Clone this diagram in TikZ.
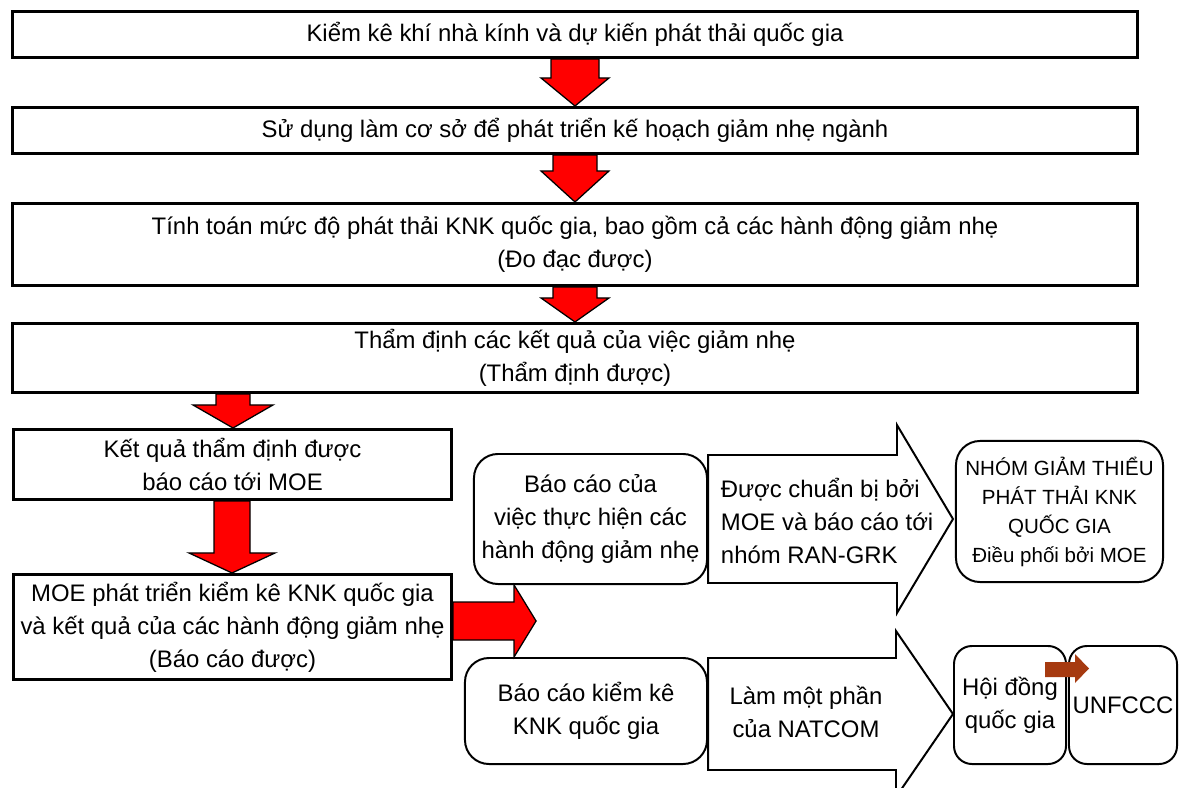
\documentclass[tikz,border=0pt]{standalone}
\usepackage{fontspec}
\setmainfont{Liberation Sans}
\usepackage{xcolor}
\usepackage{tikz}
\usetikzlibrary{positioning,calc}

\definecolor{arrowbrown}{RGB}{166,58,16}

% down block arrow: x, from node, to node, head length, shaft half width, head half width
\newcommand{\reddown}[6]{%
  \draw[redblk] (#1-#5,0 |- #2.south) -- ($(#1-#5,0 |- #3.north)+(0,-#4)$)
    -- ($(#1-#6,0 |- #3.north)+(0,-#4)$) -- (#1,0 |- #3.north)
    -- ($(#1+#6,0 |- #3.north)+(0,-#4)$) -- ($(#1+#5,0 |- #3.north)+(0,-#4)$)
    -- (#1+#5,0 |- #2.south) -- cycle;}

\begin{document}
\begin{tikzpicture}[
    x=0.025cm, y=-0.025cm,
    bigbox/.style={rectangle, draw, line width=2pt, fill=white, inner sep=2pt, align=center, font=\fontsize{17}{23.5}\selectfont},
    roundbox/.style={rectangle, draw, line width=1.4pt, rounded corners=0.6cm, fill=white, inner sep=2pt, align=center, font=\fontsize{17}{23.5}\selectfont},
    redblk/.style={draw=black, line width=0.9pt, fill=red, line join=miter},
    whiteblk/.style={draw=black, line width=1.4pt, fill=white, line join=miter},
    brownblk/.style={fill=arrowbrown}
]
\useasboundingbox (0,0) rectangle (1179,788);

% Main chain
\node[bigbox, minimum width=28.13cm, minimum height=1.155cm] (kiemke) at (575,34.5) {Kiểm kê khí nhà kính và dự kiến phát thải quốc gia};
\node[bigbox, minimum width=28.13cm, minimum height=1.155cm] (sudung) at (575,130.5) {Sử dụng làm cơ sở để phát triển kế hoạch giảm nhẹ ngành};
\node[bigbox, minimum width=28.13cm, minimum height=2.055cm] (tinhtoan) at (575,244.5) {Tính toán mức độ phát thải KNK quốc gia, bao gồm cả các hành động giảm nhẹ\\(Đo đạc được)};
\node[bigbox, minimum width=28.13cm, minimum height=1.73cm] (thamdinh) at (575,358) {Thẩm định các kết quả của việc giảm nhẹ\\(Thẩm định được)};
\node[bigbox, minimum width=10.955cm, minimum height=1.755cm] (ketqua) at (232.5,464.5) {Kết quả thẩm định được\\báo cáo tới MOE};
\node[bigbox, minimum width=10.955cm, minimum height=2.63cm] (moe) at (232.5,627) {MOE phát triển kiểm kê KNK quốc gia\\và kết quả của các hành động giảm nhẹ\\(Báo cáo được)};

% Reports
\node[roundbox, minimum width=5.825cm, minimum height=3.25cm] (bcgiamnhe) at (590.5,519) {Báo cáo của\\việc thực hiện các\\hành động giảm nhẹ};
\node[roundbox, minimum width=5.175cm, minimum height=3.525cm, font=\fontsize{14.6}{20.6}\selectfont] (nhom) at (1059.5,511.5) {NHÓM GIẢM THIỂU\\PHÁT THẢI KNK\\QUỐC GIA\\Điều phối bởi MOE};
\node[roundbox, minimum width=6.05cm, minimum height=2.65cm] (bckiemke) at (586,711) {Báo cáo kiểm kê\\KNK quốc gia};
\node[roundbox, rounded corners=0.45cm, minimum width=2.8cm, minimum height=2.95cm] (hoidong) at (1010,705) {Hội đồng\\quốc gia};
\node[roundbox, rounded corners=0.45cm, minimum width=2.7cm, minimum height=2.95cm] (unfccc) at (1123,705) {UNFCCC};

% Red arrows
\reddown{575}{kiemke}{sudung}{28}{24}{34}
\reddown{575}{sudung}{tinhtoan}{31}{22}{34}
\reddown{575}{tinhtoan}{thamdinh}{24}{22}{34}
\reddown{233}{thamdinh}{ketqua}{23}{17}{40}
\reddown{232}{ketqua}{moe}{20}{18}{43}
\draw[redblk] ($(moe.east)+(0,-25)$) -- ($(moe.east)+(61,-25)$) -- ($(moe.east)+(61,-42)$)
  -- ($(moe.east)+(83,-6)$) -- ($(moe.east)+(61,30)$) -- ($(moe.east)+(61,13)$)
  -- ($(moe.east)+(0,13)$) -- cycle;

% Big white arrows
\draw[whiteblk] ($(bcgiamnhe.east)+(0,-64)$) -- ($(bcgiamnhe.east -| nhom.west)+(-58,-64)$)
  -- ($(bcgiamnhe.east -| nhom.west)+(-58,-94)$) -- ($(bcgiamnhe.east -| nhom.west)+(-2,0)$)
  -- ($(bcgiamnhe.east -| nhom.west)+(-58,94)$) -- ($(bcgiamnhe.east -| nhom.west)+(-58,64)$)
  -- ($(bcgiamnhe.east)+(0,64)$) -- cycle;
\draw[whiteblk] ($(bckiemke.east)+(0,-53)$) -- ($(bckiemke.east -| hoidong.west)+(-57,-53)$)
  -- ($(bckiemke.east -| hoidong.west)+(-57,-80)$) -- ($(bckiemke.east -| hoidong.west)+(0,3)$)
  -- ($(bckiemke.east -| hoidong.west)+(-57,86)$) -- ($(bckiemke.east -| hoidong.west)+(-57,59)$)
  -- ($(bckiemke.east)+(0,59)$) -- cycle;
\node[anchor=west, align=left, font=\fontsize{17}{23.5}\selectfont] (lblchuanbi) at (716,521) {Được chuẩn bị bởi\\MOE và báo cáo tới\\nhóm RAN-GRK};
\node[align=center, font=\fontsize{17}{23.5}\selectfont] (lblnatcom) at (806,712) {Làm một phần\\của NATCOM};

% Small brown arrow
\fill[brownblk] ($(hoidong.north east)+(-22,17)$) -- ($(unfccc.north west)+(7,17)$)
  -- ($(unfccc.north west)+(7,9)$) -- ($(unfccc.north west)+(21,23.5)$)
  -- ($(unfccc.north west)+(7,38)$) -- ($(unfccc.north west)+(7,32)$)
  -- ($(hoidong.north east)+(-22,32)$) -- cycle;

\end{tikzpicture}
\end{document}
